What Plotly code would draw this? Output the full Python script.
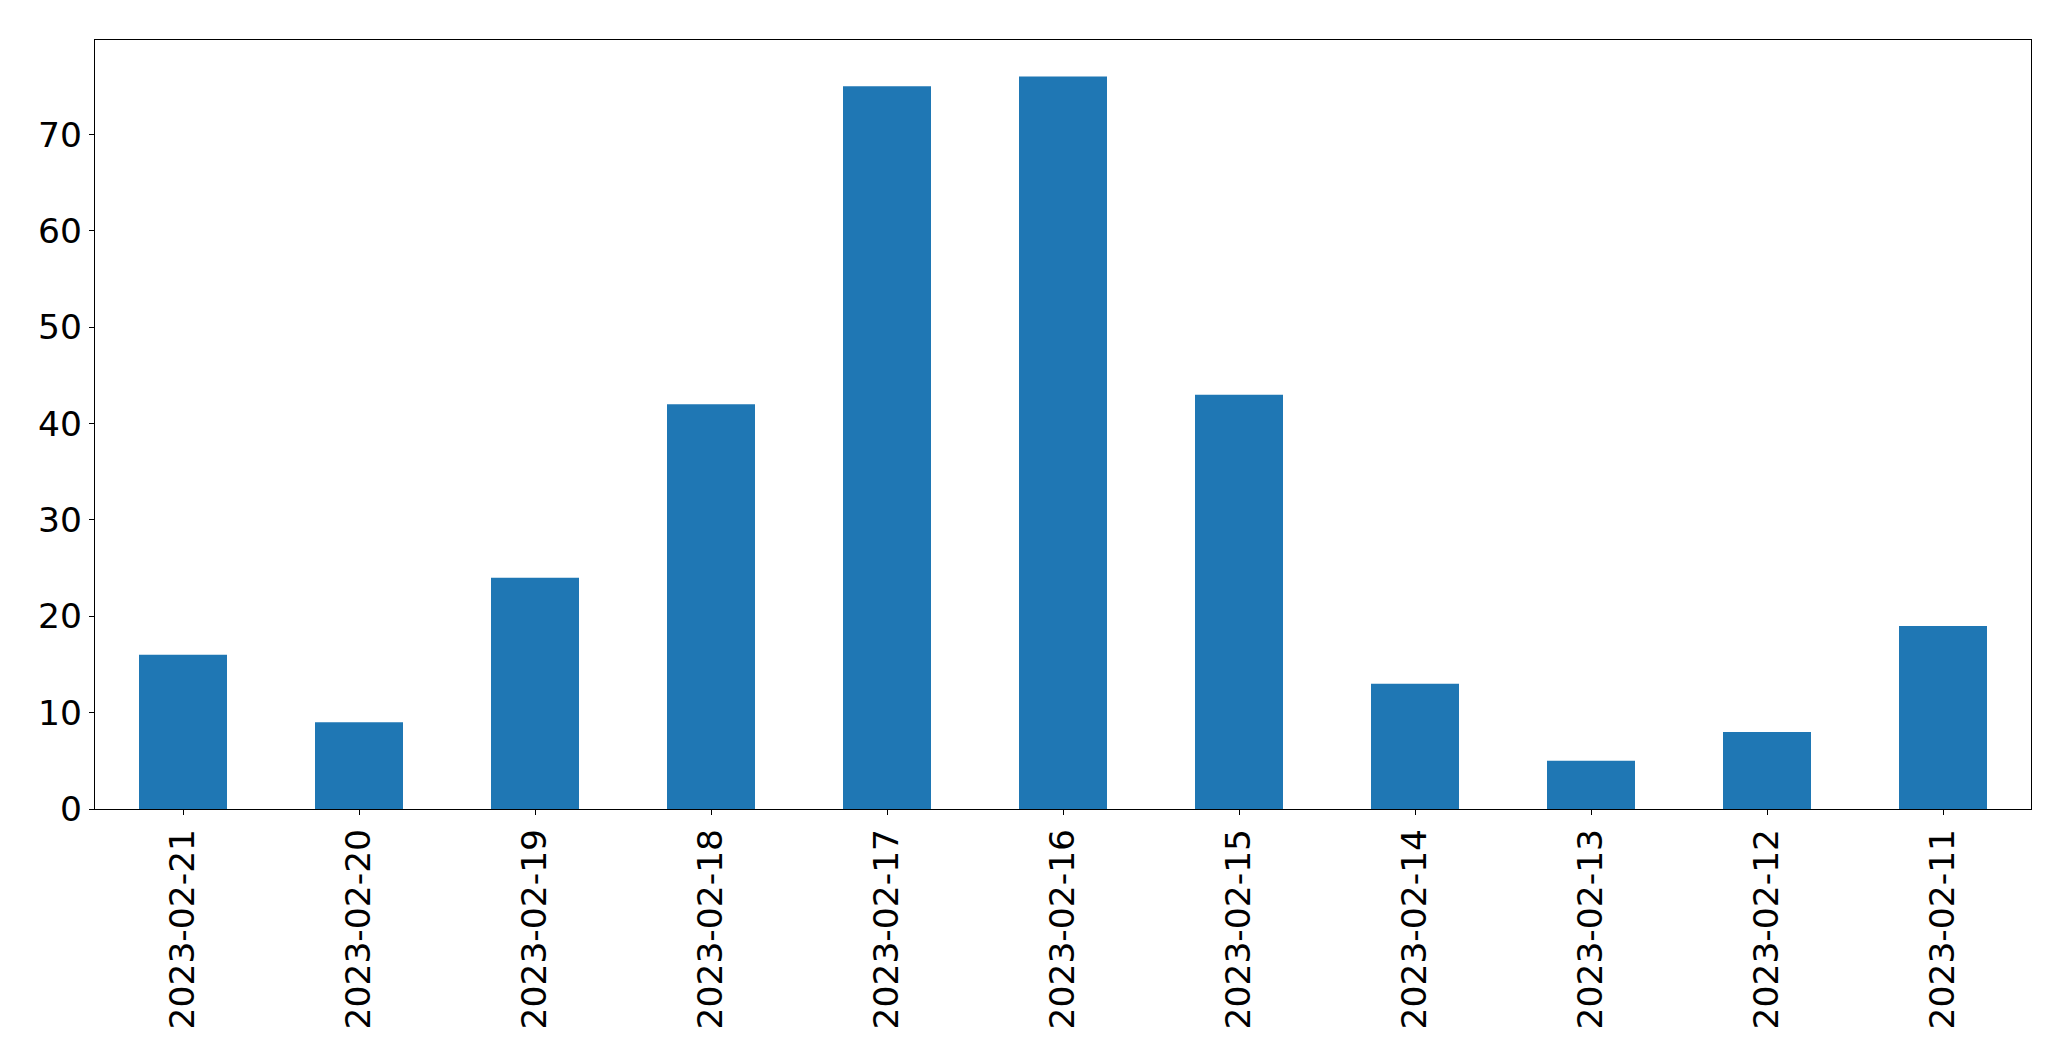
import plotly.graph_objects as go

dates = ["2023-02-21", "2023-02-20", "2023-02-19", "2023-02-18", "2023-02-17",
         "2023-02-16", "2023-02-15", "2023-02-14", "2023-02-13", "2023-02-12", "2023-02-11"]
counts = [16, 9, 24, 42, 75, 76, 43, 13, 5, 8, 19]
y_ticks = [0, 10, 20, 30, 40, 50, 60, 70]

fig = go.Figure(go.Bar(x=dates, y=counts, marker=dict(color="#1f77b4", line=dict(width=0))))

# page body has an 8px margin, so the figure is offset by 8px
fig.update_layout(
    width=2055, height=1045,
    margin=dict(l=86.5, r=32, t=31.5, b=244, autoexpand=False),
    paper_bgcolor="white", plot_bgcolor="white",
    bargap=0.5,
    showlegend=False,
    font=dict(family="DejaVu Sans", size=34.5, color="black"),
)
fig.update_xaxes(
    type="category", range=[-0.5, 10.5], tickangle=-90, automargin=False,
    showline=True, mirror=True, linecolor="black", linewidth=1.3,
    ticks="outside", ticklen=5, tickwidth=1.3, tickcolor="black",
    showgrid=False, zeroline=False,
)
fig.update_yaxes(
    range=[0, 79.8], tickvals=y_ticks, automargin=False,
    showline=True, mirror=True, linecolor="black", linewidth=1.3,
    ticks="outside", ticklen=5, tickwidth=1.3, tickcolor="black",
    showgrid=False, zeroline=False,
)
fig.write_html("out.html")
